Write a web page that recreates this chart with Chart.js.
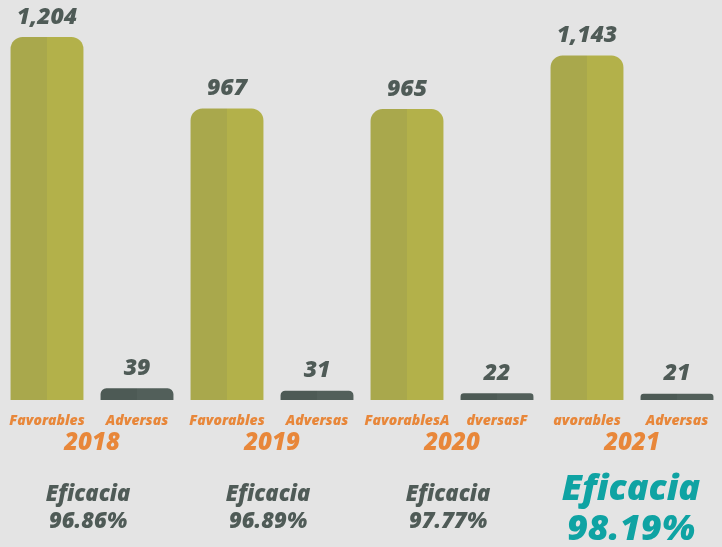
<!DOCTYPE html>
<html>
<head>
  <title>Eficacia</title>
  <script src="https://cdn.jsdelivr.net/npm/chart.js"></script>
  <style>
    body { margin: 0; background: #e4e4e4; }
  </style>
</head>
<body>
  <canvas id="chart" width="722" height="547"></canvas>
  <script>
    const years = ['2018', '2019', '2020', '2021'];
    const favorables = [1204, 967, 965, 1143];
    const adversas = [39, 31, 22, 21];
    const eficacia = ['96.86%', '96.89%', '97.77%', '98.19%'];
    // etiquetas tal cual aparecen bajo cada barra
    const barLabels = ['Favorables', 'Adversas', 'Favorables', 'Adversas',
                       'FavorablesA', 'dversasF', 'avorables', 'Adversas'];

    const values = [];
    favorables.forEach((f, i) => { values.push(f, adversas[i]); });

    const olive = ['#a9a84c', '#b3b14a'];
    const slate = ['#4d5a55', '#525f5a'];
    const gray = '#4f5b57';
    const orange = '#e8873a';
    const teal = '#0fa3a3';
    const font = '"Open Sans", sans-serif';

    function twoTone(ctx) {
      const chart = ctx.chart;
      const x = chart.scales.x;
      const pair = ctx.dataIndex % 2 ? slate : olive;
      if (!x || ctx.dataIndex === undefined) return pair[1];
      const c = x.getPixelForValue(ctx.dataIndex);
      const half = x.width / values.length * 0.81 / 2;
      if (!isFinite(c) || !isFinite(half) || half <= 0) return pair[1];
      const g = chart.ctx.createLinearGradient(c - half, 0, c + half, 0);
      g.addColorStop(0, pair[0]);
      g.addColorStop(0.5, pair[0]);
      g.addColorStop(0.5, pair[1]);
      g.addColorStop(1, pair[1]);
      return g;
    }

    // sin relleno extra a los lados por las etiquetas anchas
    function fixAxis(h) {
      return s => { s.height = h; s.paddingLeft = 0; s.paddingRight = 0; };
    }

    const valueLabels = {
      id: 'valueLabels',
      afterDatasetsDraw(chart) {
        const ctx = chart.ctx;
        const meta = chart.getDatasetMeta(0);
        ctx.save();
        ctx.font = 'italic 800 23px ' + font;
        ctx.fillStyle = gray;
        ctx.textAlign = 'center';
        ctx.textBaseline = 'middle';
        meta.data.forEach((bar, i) => {
          ctx.fillText(values[i].toLocaleString('en-US'), bar.x, bar.y - 20);
        });
        ctx.restore();
      }
    };

    const eficaciaLabels = {
      id: 'eficaciaLabels',
      afterDraw(chart) {
        const ctx = chart.ctx;
        const x2 = chart.scales.x2;
        ctx.save();
        ctx.textAlign = 'center';
        ctx.textBaseline = 'middle';
        eficacia.forEach((e, i) => {
          const x = x2.getPixelForValue(i) - 4;
          const last = i === eficacia.length - 1;
          ctx.fillStyle = last ? teal : gray;
          ctx.font = 'italic 800 ' + (last ? 36 : 22) + 'px ' + font;
          ctx.fillText('Eficacia', last ? x + 3 : x, last ? 490 : 495);
          ctx.fillText(e, last ? x + 3 : x, last ? 530 : 522);
        });
        ctx.restore();
      }
    };

    new Chart(document.getElementById('chart'), {
      type: 'bar',
      data: {
        labels: barLabels,
        datasets: [{
          data: values,
          backgroundColor: twoTone,
          borderRadius: { topLeft: 12, topRight: 12 },
          borderSkipped: 'bottom',
          barPercentage: 0.81,
          categoryPercentage: 1
        }]
      },
      options: {
        responsive: false,
        animation: false,
        layout: { padding: { left: 2, right: 0, top: 0, bottom: 92 } },
        plugins: { legend: { display: false }, tooltip: { enabled: false } },
        scales: {
          y: { display: false, min: 0, max: 1327 },
          x: {
            weight: 0,
            grid: { display: false, drawTicks: false },
            border: { display: false },
            afterFit: fixAxis(30),
            ticks: {
              color: orange,
              padding: 13,
              maxRotation: 0,
              autoSkip: false,
              font: { family: font, size: 14, style: 'italic', weight: 800 }
            }
          },
          x2: {
            type: 'category',
            labels: years,
            position: 'bottom',
            weight: 1,
            offset: true,
            grid: { display: false, drawTicks: false },
            border: { display: false },
            afterFit: fixAxis(25),
            ticks: {
              color: orange,
              padding: 1,
              font: { family: font, size: 24, style: 'italic', weight: 800, lineHeight: 1 }
            }
          }
        }
      },
      plugins: [valueLabels, eficaciaLabels]
    });
  </script>
</body>
</html>
